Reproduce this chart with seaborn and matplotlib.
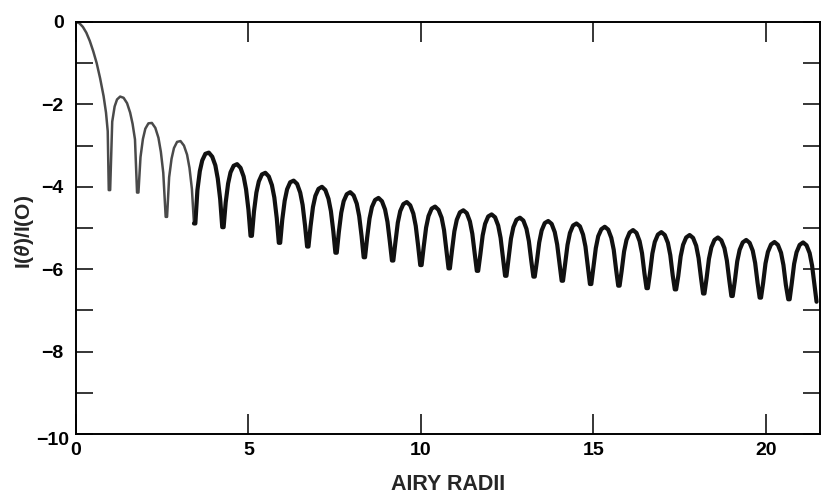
import pandas as pd
import seaborn as sns
import matplotlib.pyplot as plt
import matplotlib.transforms as mtransforms
from matplotlib.ticker import MultipleLocator

# central peak, log10 of relative intensity
main_x = [0.0, 0.1, 0.2, 0.3, 0.4, 0.5, 0.6, 0.7, 0.8, 0.87, 0.92]
main_y = [0.0, -0.03, -0.12, -0.26, -0.46, -0.71, -1.0, -1.37, -1.8, -2.2, -2.65]

# bottoms of the dark rings (two points per null, last one = end of the trace)
null_x = [0.95, 0.99, 1.77, 1.81, 2.60, 2.64, 3.42, 3.46, 4.24, 4.28,
          5.06, 5.10, 5.88, 5.92, 6.70, 6.74, 7.52, 7.56, 8.34, 8.38,
          9.16, 9.20, 9.98, 10.02, 10.80, 10.84, 11.62, 11.66, 12.44, 12.48,
          13.26, 13.30, 14.08, 14.12, 14.90, 14.94, 15.72, 15.76, 16.54, 16.58,
          17.36, 17.40, 18.18, 18.22, 19.00, 19.04, 19.82, 19.86, 20.65, 20.69,
          21.47]
null_y = [-4.08, -4.08, -4.14, -4.14, -4.73, -4.73, -4.89, -4.89, -4.98, -4.98,
          -5.19, -5.19, -5.36, -5.36, -5.45, -5.45, -5.60, -5.60, -5.71, -5.71,
          -5.79, -5.79, -5.90, -5.90, -5.98, -5.98, -6.04, -6.04, -6.16, -6.16,
          -6.18, -6.18, -6.28, -6.28, -6.36, -6.36, -6.40, -6.40, -6.46, -6.46,
          -6.49, -6.49, -6.59, -6.59, -6.65, -6.65, -6.69, -6.69, -6.73, -6.73,
          -6.79]

# bright rings, one line per ring
ring_x = [
    1.05, 1.12, 1.19, 1.28, 1.38, 1.48, 1.57, 1.64, 1.71,
    1.87, 1.94, 2.01, 2.10, 2.20, 2.30, 2.39, 2.46, 2.53,
    2.70, 2.77, 2.84, 2.93, 3.03, 3.13, 3.22, 3.29, 3.36,
    3.52, 3.59, 3.66, 3.75, 3.85, 3.95, 4.04, 4.11, 4.18,
    4.34, 4.41, 4.48, 4.57, 4.67, 4.77, 4.86, 4.93, 5.00,
    5.16, 5.23, 5.30, 5.39, 5.49, 5.59, 5.68, 5.75, 5.82,
    5.98, 6.05, 6.12, 6.21, 6.31, 6.41, 6.50, 6.57, 6.64,
    6.80, 6.87, 6.94, 7.03, 7.13, 7.23, 7.32, 7.39, 7.46,
    7.62, 7.69, 7.76, 7.85, 7.95, 8.05, 8.14, 8.21, 8.28,
    8.44, 8.51, 8.58, 8.67, 8.77, 8.87, 8.96, 9.03, 9.10,
    9.26, 9.33, 9.40, 9.49, 9.59, 9.69, 9.78, 9.85, 9.92,
    10.08, 10.15, 10.22, 10.31, 10.41, 10.51, 10.60, 10.67, 10.74,
    10.90, 10.97, 11.04, 11.13, 11.23, 11.33, 11.42, 11.49, 11.56,
    11.72, 11.79, 11.86, 11.95, 12.05, 12.15, 12.24, 12.31, 12.38,
    12.54, 12.61, 12.68, 12.77, 12.87, 12.97, 13.06, 13.13, 13.20,
    13.36, 13.43, 13.50, 13.59, 13.69, 13.79, 13.88, 13.95, 14.02,
    14.18, 14.25, 14.32, 14.41, 14.51, 14.61, 14.70, 14.77, 14.84,
    15.00, 15.07, 15.14, 15.23, 15.33, 15.43, 15.52, 15.59, 15.66,
    15.82, 15.89, 15.96, 16.05, 16.15, 16.25, 16.34, 16.41, 16.48,
    16.64, 16.71, 16.78, 16.87, 16.97, 17.07, 17.16, 17.23, 17.30,
    17.46, 17.53, 17.60, 17.69, 17.79, 17.89, 17.98, 18.05, 18.12,
    18.28, 18.35, 18.42, 18.51, 18.61, 18.71, 18.80, 18.87, 18.94,
    19.10, 19.17, 19.24, 19.33, 19.43, 19.53, 19.62, 19.69, 19.76,
    19.92, 19.99, 20.06, 20.15, 20.25, 20.35, 20.44, 20.51, 20.58,
    20.75, 20.82, 20.89, 20.98, 21.08, 21.18, 21.27, 21.34, 21.41,
]
ring_y = [
    -2.42, -2.05, -1.88, -1.81, -1.84, -1.97, -2.20, -2.47, -2.85,
    -3.28, -2.84, -2.59, -2.46, -2.45, -2.57, -2.81, -3.15, -3.66,
    -3.77, -3.32, -3.06, -2.91, -2.89, -3.00, -3.22, -3.54, -4.05,
    -4.08, -3.62, -3.36, -3.20, -3.17, -3.27, -3.48, -3.80, -4.30,
    -4.38, -3.92, -3.65, -3.49, -3.45, -3.54, -3.75, -4.06, -4.56,
    -4.60, -4.14, -3.87, -3.70, -3.66, -3.75, -3.96, -4.26, -4.76,
    -4.80, -4.34, -4.06, -3.89, -3.85, -3.93, -4.14, -4.44, -4.94,
    -4.96, -4.49, -4.22, -4.05, -4.00, -4.08, -4.29, -4.59, -5.08,
    -5.10, -4.63, -4.35, -4.18, -4.13, -4.21, -4.41, -4.71, -5.20,
    -5.24, -4.77, -4.49, -4.32, -4.27, -4.35, -4.55, -4.85, -5.34,
    -5.35, -4.87, -4.59, -4.42, -4.37, -4.45, -4.65, -4.95, -5.44,
    -5.46, -4.99, -4.71, -4.53, -4.48, -4.56, -4.75, -5.05, -5.54,
    -5.55, -5.08, -4.80, -4.62, -4.57, -4.64, -4.84, -5.14, -5.63,
    -5.66, -5.18, -4.90, -4.72, -4.67, -4.74, -4.94, -5.24, -5.73,
    -5.74, -5.26, -4.98, -4.80, -4.75, -4.82, -5.02, -5.32, -5.80,
    -5.82, -5.35, -5.06, -4.88, -4.83, -4.90, -5.10, -5.40, -5.88,
    -5.88, -5.41, -5.12, -4.94, -4.89, -4.96, -5.16, -5.45, -5.94,
    -5.96, -5.49, -5.20, -5.03, -4.97, -5.04, -5.24, -5.53, -6.02,
    -6.04, -5.57, -5.29, -5.11, -5.05, -5.12, -5.32, -5.61, -6.10,
    -6.10, -5.62, -5.34, -5.16, -5.10, -5.17, -5.36, -5.66, -6.15,
    -6.17, -5.69, -5.41, -5.23, -5.17, -5.24, -5.43, -5.73, -6.21,
    -6.23, -5.75, -5.47, -5.29, -5.23, -5.30, -5.49, -5.79, -6.27,
    -6.29, -5.81, -5.53, -5.35, -5.29, -5.36, -5.55, -5.85, -6.33,
    -6.34, -5.86, -5.58, -5.40, -5.34, -5.41, -5.60, -5.90, -6.38,
    -6.35, -5.87, -5.59, -5.41, -5.35, -5.42, -5.61, -5.91, -6.39,
]

x_ticks = [0, 5, 10, 15, 20]
y_ticks = [-10, -8, -6, -4, -2, 0]

df = pd.concat([
    pd.DataFrame({'radius': main_x, 'log_i': main_y}),
    pd.DataFrame({'radius': null_x, 'log_i': null_y}),
    pd.DataFrame({'radius': ring_x, 'log_i': ring_y}),
]).sort_values('radius').reset_index(drop=True)

sns.set_style("ticks")
plt.rcParams['font.family'] = ['Liberation Sans', 'DejaVu Sans']
plt.rcParams['font.weight'] = 'bold'
plt.rcParams['mathtext.fontset'] = 'custom'
plt.rcParams['mathtext.rm'] = 'Liberation Sans:bold'
plt.rcParams['mathtext.it'] = 'Liberation Sans:italic:bold'
plt.rcParams['axes.unicode_minus'] = True

fig = plt.figure(figsize=(8.21, 4.94), dpi=100)
ax = fig.add_axes([76 / 821, 60 / 494, 744 / 821, 412 / 494])

# inner part of the trace is drawn lighter / thinner, like the original plot
early = df[df['radius'] <= 3.47]
late = df[df['radius'] >= 3.41]
sns.lineplot(data=early, x='radius', y='log_i', estimator=None, sort=True,
             color='#4a4a4a', linewidth=1.8, ax=ax)
sns.lineplot(data=late, x='radius', y='log_i', estimator=None, sort=True,
             color='#111111', linewidth=3.0, ax=ax)

ax.set_xlim(0, 21.57)
ax.set_ylim(-10, 0)
ax.set_xticks(x_ticks)
ax.set_yticks(y_ticks)
ax.yaxis.set_minor_locator(MultipleLocator(1))

for side in ['left', 'right', 'top', 'bottom']:
    ax.spines[side].set_linewidth(1.4)
    ax.spines[side].set_color('black')

ax.tick_params(axis='x', which='major', direction='in', length=14.5, width=1.1,
               top=True, bottom=True, labelsize=14, pad=6, colors='black')
ax.tick_params(axis='y', which='both', direction='in', length=12.5, width=1.1,
               left=True, right=True, labelsize=14, pad=9, colors='black')

# "-10" sits lower and closer to the axis in the original
t10 = ax.yaxis.get_major_ticks()[0].label1
t10.set_transform(t10.get_transform() +
                  mtransforms.ScaledTranslation(4 / 72, -3 / 72, fig.dpi_scale_trans))

ax.set_xlabel('AIRY RADII', fontsize=15.5, fontweight='bold', va='center')
ax.xaxis.set_label_coords(0.5, -0.1226)
ax.set_ylabel(r'I($\theta$)/I(O)', fontsize=15, fontweight='bold', va='center', ha='center')
ax.yaxis.set_label_coords(-0.069, 0.49)

fig.savefig('out.png', dpi=100)
